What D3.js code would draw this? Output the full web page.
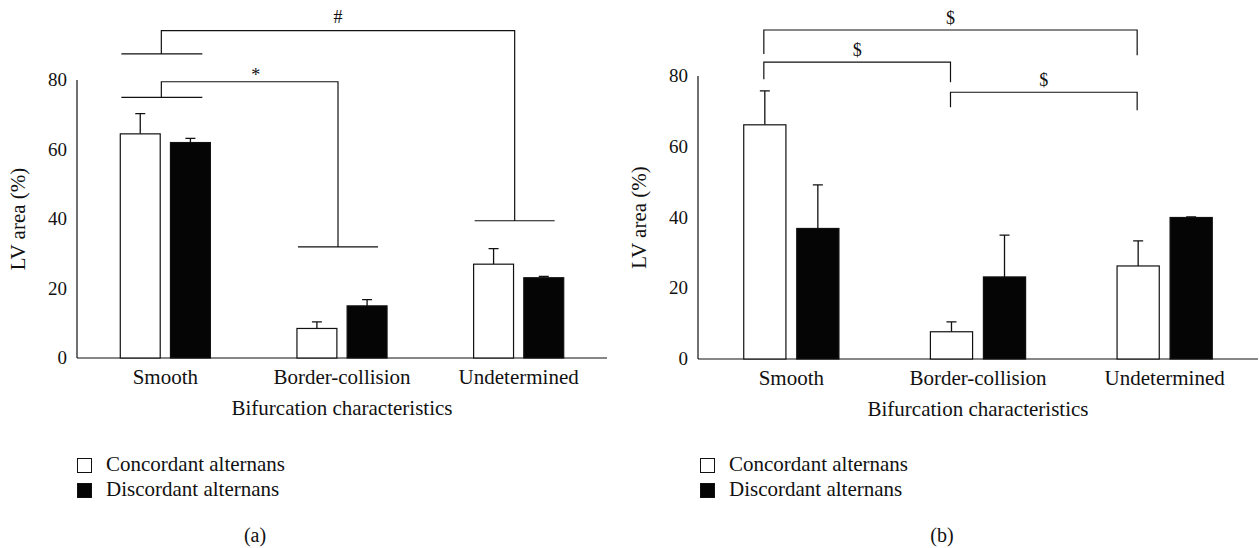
<!DOCTYPE html>
<html>
<head>
<meta charset="utf-8">
<script src="https://cdn.jsdelivr.net/npm/d3@7"></script>
<style>
  body { margin: 0; background: #fff; }
  text { font-family: "Liberation Serif", "DejaVu Serif", serif; fill: #111; }
</style>
</head>
<body>
<svg id="chart" width="1259" height="548"></svg>
<script>
// Categories and ticks
const categories = ["Smooth", "Border-collision", "Undetermined"];
const yTicks = [0, 20, 40, 60, 80];
const seriesNames = ["Concordant alternans", "Discordant alternans"];

// Panel (a) values (mean, upper error)
const concordantA = [64.5, 8.5, 27.0];
const concordantErrA = [5.8, 1.9, 4.5];
const discordantA = [62.0, 15.0, 23.1];
const discordantErrA = [1.2, 1.8, 0.4];

// Panel (b) values
const concordantB = [66.2, 7.7, 26.3];
const concordantErrB = [9.6, 2.8, 7.1];
const discordantB = [36.9, 23.2, 40.0];
const discordantErrB = [12.3, 11.8, 0.2];

// Significance annotations, in data units
const bracketsA = [
  {from: "Smooth", to: "Border-collision", fromY: 75, topY: 79.5, toY: 32, label: "*"},
  {from: "Smooth", to: "Undetermined", fromY: 87.5, topY: 94.2, toY: 39.5, label: "#"}
];
const bracketsB = [
  {from: "Smooth", to: "Undetermined", topY: 93.0, fromY: 86.2, toY: 85.9, label: "$"},
  {from: "Smooth", to: "Border-collision", topY: 83.9, fromY: 79.1, toY: 78.2, label: "$"},
  {from: "Border-collision", to: "Undetermined", topY: 75.4, fromY: 71.2, toY: 70.3, label: "$"}
];

const svg = d3.select("#chart");

function drawPanel(opt) {
  const g = svg.append("g");

  const x = d3.scaleBand().domain(categories).range([opt.left, opt.right]);
  const y = d3.scaleLinear().domain([0, 80]).range([opt.bottom, opt.top]);
  const bw = x.bandwidth();
  const barW = bw * 0.226, gap = bw * 0.058;
  const cx = c => x(c) + bw / 2;

  // axes lines (no tick marks)
  g.append("line")
    .attr("x1", opt.left).attr("x2", opt.left)
    .attr("y1", y(0)).attr("y2", y(80))
    .attr("stroke", "#111").attr("stroke-width", 1.2);
  g.append("line")
    .attr("x1", opt.left).attr("x2", opt.right)
    .attr("y1", y(0)).attr("y2", y(0))
    .attr("stroke", "#111").attr("stroke-width", 1.2);

  g.selectAll(".ytick")
    .data(yTicks)
    .join("text")
    .attr("x", opt.left - 10)
    .attr("y", d => y(d) + 6)
    .attr("text-anchor", "end")
    .style("font-size", "19px")
    .text(d => d);

  g.selectAll(".xlab")
    .data(categories)
    .join("text")
    .attr("x", d => cx(d))
    .attr("y", opt.bottom + 26)
    .attr("text-anchor", "middle")
    .style("font-size", "21px")
    .text(d => d);

  g.append("text")
    .attr("x", (opt.left + opt.right) / 2)
    .attr("y", opt.bottom + 57)
    .attr("text-anchor", "middle")
    .style("font-size", "21px")
    .text("Bifurcation characteristics");

  g.append("text")
    .attr("transform", `translate(${opt.left - 52}, ${(opt.top + opt.bottom) / 2}) rotate(-90)`)
    .attr("text-anchor", "middle")
    .style("font-size", "21px")
    .text("LV area (%)");

  // bars
  const series = [
    {vals: opt.conc, errs: opt.concErr, fill: "#fff", off: -gap / 2 - barW},
    {vals: opt.disc, errs: opt.discErr, fill: "#050505", off: gap / 2}
  ];
  series.forEach(s => {
    const rows = categories.map((c, i) => ({c: c, v: s.vals[i], e: s.errs[i]}));
    // error bars (upper only)
    g.selectAll(null)
      .data(rows)
      .join("path")
      .attr("d", d => {
        const mx = cx(d.c) + s.off + barW / 2;
        const yt = y(d.v + d.e);
        return `M${mx},${y(d.v)}V${yt}M${mx - 5},${yt}H${mx + 5}`;
      })
      .attr("stroke", "#111").attr("stroke-width", 1.3).attr("fill", "none");
    g.selectAll(null)
      .data(rows)
      .join("rect")
      .attr("x", d => cx(d.c) + s.off)
      .attr("y", d => y(d.v))
      .attr("width", barW)
      .attr("height", d => y(0) - y(d.v))
      .attr("fill", s.fill)
      .attr("stroke", "#111")
      .attr("stroke-width", 1.2);
  });

  opt.drawBrackets(g, x, y, cx, barW, gap);

  // legend
  const leg = g.append("g").attr("transform", `translate(${opt.legendX}, 458)`);
  seriesNames.forEach((name, i) => {
    leg.append("rect")
      .attr("x", 0.5).attr("y", i * 25 + 0.5)
      .attr("width", 14).attr("height", 14)
      .attr("fill", i === 0 ? "#fff" : "#050505")
      .attr("stroke", "#111").attr("stroke-width", 1);
    leg.append("text")
      .attr("x", 29).attr("y", i * 25 + 13)
      .style("font-size", "21px")
      .text(name);
  });

  g.append("text")
    .attr("x", opt.captionX)
    .attr("y", 542)
    .attr("text-anchor", "middle")
    .style("font-size", "20px")
    .text(opt.caption);
}

// Panel (a): elbow connectors between group lines
drawPanel({
  left: 77, right: 607, top: 80, bottom: 358,
  conc: concordantA, concErr: concordantErrA,
  disc: discordantA, discErr: discordantErrA,
  legendX: 77, captionX: 255, caption: "(a)",
  drawBrackets: (g, x, y, cx) => {
    const bx = c => cx(c) - 4;
    bracketsA.forEach(b => {
      const x1 = bx(b.from), x2 = bx(b.to);
      g.append("path")
        .attr("d", `M${x1 - 40},${y(b.fromY)}H${x1 + 41}` +
                   `M${x1},${y(b.fromY)}V${y(b.topY)}H${x2}V${y(b.toY)}` +
                   `M${x2 - 40},${y(b.toY)}H${x2 + 40}`)
        .attr("stroke", "#111").attr("stroke-width", 1.2).attr("fill", "none");
      g.append("text")
        .attr("x", (x1 + x2) / 2 + (b.label === "*" ? 6 : 0))
        .attr("y", y(b.topY) - (b.label === "*" ? 1 : 8))
        .attr("text-anchor", "middle")
        .style("font-size", "18px")
        .text(b.label);
    });
  }
});

// Panel (b): simple brackets over concordant bars
drawPanel({
  left: 698, right: 1258, top: 76, bottom: 359,
  conc: concordantB, concErr: concordantErrB,
  disc: discordantB, discErr: discordantErrB,
  legendX: 700, captionX: 942, caption: "(b)",
  drawBrackets: (g, x, y, cx, barW, gap) => {
    const bx = c => cx(c) - gap / 2 - barW / 2 - 1;
    bracketsB.forEach(b => {
      const x1 = bx(b.from), x2 = bx(b.to);
      g.append("path")
        .attr("d", `M${x1},${y(b.fromY)}V${y(b.topY)}H${x2}V${y(b.toY)}`)
        .attr("stroke", "#111").attr("stroke-width", 1.2).attr("fill", "none");
      g.append("text")
        .attr("x", (x1 + x2) / 2)
        .attr("y", y(b.topY) - 6)
        .attr("text-anchor", "middle")
        .style("font-size", "18px")
        .text(b.label);
    });
  }
});
</script>
</body>
</html>
